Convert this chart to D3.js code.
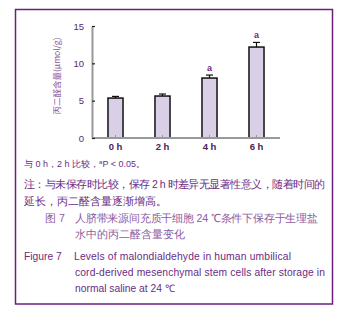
<!DOCTYPE html>
<html>
<head>
<meta charset="utf-8">
<script src="https://cdn.jsdelivr.net/npm/d3@7"></script>
<style>
  body { margin: 0; background: #fff; }
  text { font-family: "Liberation Sans", Arial, sans-serif; }
  .cjk { font-family: "Noto Sans CJK SC", sans-serif; }
</style>
</head>
<body>
<div id="chart"></div>
<script>
// data
var categories = ["0 h", "2 h", "4 h", "6 h"];
var means = [5.35, 5.62, 8.03, 12.18];
var errors = [0.22, 0.27, 0.40, 0.62];
var marks = ["", "", "a", "a"];
var yTicks = [0, 5, 10, 15];

var W = 345, H = 315;
var purple = "#6a2c86", light = "#8c5aa0", frame = "#6d1f80";

var svg = d3.select("#chart").append("svg")
    .attr("width", W)
    .attr("height", H);

// outer frame
svg.append("rect")
    .attr("x", 15.5).attr("y", 9.5)
    .attr("width", 317).attr("height", 294.5)
    .attr("fill", "none")
    .attr("stroke", frame)
    .attr("stroke-width", 1.5);

var x = d3.scaleBand()
    .domain(categories)
    .range([92, 280])
    .paddingInner(0.68)
    .paddingOuter(0.34);

var y = d3.scaleLinear()
    .domain([0, 15])
    .range([138, 26]);

var g = svg.append("g");

// bars
g.selectAll("rect.bar")
    .data(categories)
    .enter()
    .append("rect")
    .attr("class", "bar")
    .attr("x", function(d){ return x(d); })
    .attr("y", function(d, i){ return y(means[i]); })
    .attr("width", x.bandwidth())
    .attr("height", function(d, i){ return y(0) - y(means[i]); })
    .attr("fill", "#d9d0e8")
    .attr("stroke", "#111")
    .attr("stroke-width", 1.5);

// error bars
var cx = function(d){ return x(d) + x.bandwidth() / 2; };
g.selectAll("line.err")
    .data(categories)
    .enter()
    .append("line")
    .attr("x1", cx).attr("x2", cx)
    .attr("y1", function(d, i){ return y(means[i]); })
    .attr("y2", function(d, i){ return y(means[i] + errors[i]); })
    .attr("stroke", "#111").attr("stroke-width", 1.2);
g.selectAll("line.cap")
    .data(categories)
    .enter()
    .append("line")
    .attr("x1", function(d){ return cx(d) - 3.5; })
    .attr("x2", function(d){ return cx(d) + 3.5; })
    .attr("y1", function(d, i){ return y(means[i] + errors[i]); })
    .attr("y2", function(d, i){ return y(means[i] + errors[i]); })
    .attr("stroke", "#111").attr("stroke-width", 1.2);

// significance letters
g.selectAll("text.sig")
    .data(categories)
    .enter()
    .append("text")
    .attr("x", cx)
    .attr("y", function(d, i){ return y(means[i] + errors[i]) - 4; })
    .attr("text-anchor", "middle")
    .attr("font-size", 9)
    .attr("font-weight", "bold")
    .attr("fill", purple)
    .text(function(d, i){ return marks[i]; });

// x axis: gray baseline, small inner ticks
var xAxis = g.append("g")
    .attr("transform", "translate(0," + y(0) + ")")
    .call(d3.axisBottom(x).tickSizeInner(-3).tickSizeOuter(0).tickPadding(5));
xAxis.select(".domain").attr("stroke", "#999").attr("stroke-width", 2);
xAxis.selectAll(".tick line").attr("stroke", "#999");
xAxis.selectAll(".tick text")
    .attr("font-size", 9.5).attr("font-weight", "bold").attr("fill", "#4a2358")
    .attr("font-family", "Liberation Sans, Arial, sans-serif");
xAxis.select(".domain").attr("d", "M92,0H280");

// y axis: gray line, short dark ticks pointing inward
var yAxis = g.append("g")
    .attr("transform", "translate(92,0)")
    .call(d3.axisLeft(y).tickValues(yTicks).tickSizeInner(-3).tickSizeOuter(0).tickPadding(8));
yAxis.select(".domain").attr("stroke", "#999").attr("stroke-width", 2);
yAxis.selectAll(".tick line").attr("stroke", "#222").attr("stroke-width", 1.2);
yAxis.selectAll(".tick text")
    .attr("font-size", 9.5).attr("fill", "#5a2a6e")
    .attr("font-family", "Liberation Sans, Arial, sans-serif");

// y label
svg.append("text")
    .attr("class", "cjk")
    .attr("transform", "translate(60,76) rotate(-90)")
    .attr("text-anchor", "middle")
    .attr("font-size", 8.5)
    .attr("fill", light)
    .text("丙二醛含量(μmol/g)");

// notes and captions
var notes = svg.append("g").attr("class", "cjk").attr("font-weight", 300);
var t1 = notes.append("text").attr("x", 24).attr("y", 167)
    .attr("font-size", 9).attr("fill", purple);
t1.append("tspan").text("与 0 h，2 h 比较，");
t1.append("tspan").attr("font-size", 6).attr("dy", -3).text("a");
t1.append("tspan").attr("dy", 3).text("P < 0.05。");

notes.append("text").attr("x", 24).attr("y", 188)
    .attr("font-size", 10.6).attr("fill", purple)
    .attr("textLength", 301).attr("lengthAdjust", "spacing")
    .text("注：与未保存时比较，保存 2 h 时差异无显著性意义，随着时间的");
notes.append("text").attr("x", 24).attr("y", 205)
    .attr("font-size", 10.6).attr("fill", purple)
    .text("延长，丙二醛含量逐渐增高。");

notes.append("text").attr("x", 45).attr("y", 222)
    .attr("font-size", 10.6).attr("fill", light)
    .text("图 7");
notes.append("text").attr("x", 75).attr("y", 222)
    .attr("font-size", 10.6).attr("fill", light)
    .attr("textLength", 243).attr("lengthAdjust", "spacing")
    .text("人脐带来源间充质干细胞 24 ℃条件下保存于生理盐");
notes.append("text").attr("x", 75).attr("y", 238)
    .attr("font-size", 10.6).attr("fill", light)
    .text("水中的丙二醛含量变化");

var en = svg.append("g");
en.append("text").attr("x", 24).attr("y", 260)
    .attr("font-size", 10.3).attr("fill", purple).text("Figure 7");
en.append("text").attr("x", 74).attr("y", 260)
    .attr("font-size", 10.3).attr("fill", purple)
    .attr("textLength", 217).attr("lengthAdjust", "spacing")
    .text("Levels of malondialdehyde in human umbilical");
en.append("text").attr("x", 75).attr("y", 276)
    .attr("font-size", 10.3).attr("fill", purple)
    .attr("textLength", 250).attr("lengthAdjust", "spacing")
    .text("cord-derived mesenchymal stem cells after storage in");
en.append("text").attr("x", 75).attr("y", 292)
    .attr("font-size", 10.3).attr("fill", purple).text("normal saline at 24  ℃");
</script>
</body>
</html>
